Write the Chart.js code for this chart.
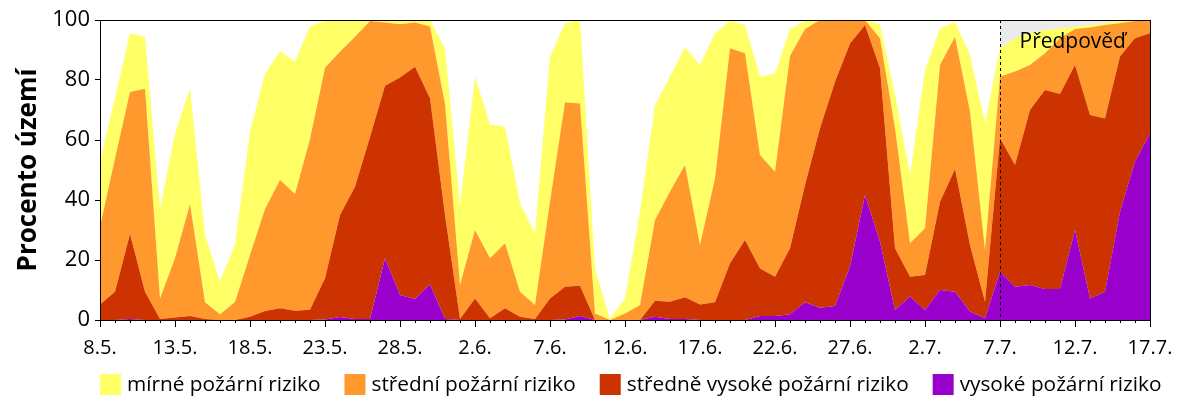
<!DOCTYPE html>
<html>
<head>
<meta charset="utf-8">
<script src="https://cdn.jsdelivr.net/npm/chart.js@4/dist/chart.umd.min.js"></script>
<style>
  html, body { margin: 0; padding: 0; background: #fff; }
  #wrap { width: 1200px; height: 400px; }
</style>
</head>
<body>
<div id="wrap"><canvas id="riziko" width="1200" height="400"></canvas></div>
<script>
const dny = [
    '8.5.', '9.5.', '10.5.', '11.5.', '12.5.', '13.5.', '14.5.', '15.5.', '16.5.', '17.5.',
    '18.5.', '19.5.', '20.5.', '21.5.', '22.5.', '23.5.', '24.5.', '25.5.', '26.5.', '27.5.',
    '28.5.', '29.5.', '30.5.', '31.5.', '1.6.', '2.6.', '3.6.', '4.6.', '5.6.', '6.6.',
    '7.6.', '8.6.', '9.6.', '10.6.', '11.6.', '12.6.', '13.6.', '14.6.', '15.6.', '16.6.',
    '17.6.', '18.6.', '19.6.', '20.6.', '21.6.', '22.6.', '23.6.', '24.6.', '25.6.', '26.6.',
    '27.6.', '28.6.', '29.6.', '30.6.', '1.7.', '2.7.', '3.7.', '4.7.', '5.7.', '6.7.',
    '7.7.', '8.7.', '9.7.', '10.7.', '11.7.', '12.7.', '13.7.', '14.7.', '15.7.', '16.7.',
    '17.7.'
];

// podil uzemi v % pro kazdy stupen (skladane)
const vysoke = [
    0, 0, 0.3, 0, 0, 0, 0, 0, 0, 0,
    0, 0, 0, 0, 0, 0.2, 1, 0.3, 0.3, 20.6,
    8.3, 7, 11.9, 0.3, 0, 0, 0, 0, 0, 0,
    0, 0.2, 1.3, 0, 0, 0, 0, 1.1, 0.3, 0.3,
    0, 0, 0, 0, 1.3, 1.3, 1.9, 5.9, 4.1, 4.7,
    17.8, 41.7, 26.1, 3.3, 7.8, 3.3, 10, 9.4, 2.8, 0.6,
    16.1, 11.1, 11.7, 10.3, 10.3, 30, 7.2, 9.4, 36.1, 52.8,
    62.2
];
const stredneVysoke = [
    5.2, 9.4, 28.4, 9.4, 0.3, 0.8, 1.3, 0.3, 0, 0,
    1.1, 3, 3.9, 3.1, 3.4, 13.7, 34, 44.1, 60.7, 57.5,
    72.5, 77.4, 62, 34.7, 0.3, 7.2, 0.6, 3.9, 1.1, 0.3,
    7.2, 10.9, 10.1, 0, 0, 0, 0, 5.3, 5.8, 7.3,
    5.2, 5.9, 18.9, 26.7, 15.9, 13.1, 22, 39.1, 59.8, 74.7,
    74.4, 56.6, 57.8, 20.6, 6.6, 11.7, 29.4, 40.9, 22.2, 5.5,
    44.5, 40.6, 58.3, 66.4, 65, 55, 61.1, 57.8, 51.7, 41.1,
    33.4
];
const stredni = [
    25.9, 44.4, 47.3, 67.7, 6.9, 19.8, 37.4, 5.6, 1.9, 6,
    20.6, 34, 42.8, 38.9, 56.9, 70.2, 54.4, 50, 38.7, 21.1,
    17.8, 14.8, 23.9, 37, 11.4, 22.8, 20, 21.7, 8.3, 4.7,
    32.2, 61.5, 60.8, 2.2, 0, 2.2, 5, 26.9, 36.7, 44.1,
    19.8, 41.3, 71.7, 62.2, 37.8, 35, 64.1, 52, 36.1, 20.6,
    7.8, 1.7, 10, 40, 11.2, 15.6, 45.6, 44.1, 44.4, 17.2,
    20.5, 31.1, 15, 12.2, 18.6, 12, 29.2, 31.1, 11.1, 5.8,
    4.4
];
const mirne = [
    21.7, 20.2, 19.6, 17.3, 29.8, 41.6, 38.5, 22.4, 10.9, 19,
    41.1, 45, 43, 44.1, 37.7, 15.6, 10.6, 5.6, 0.3, 0.8,
    1.4, 0.8, 2.2, 18.6, 26.6, 51.1, 44.6, 38.8, 29.5, 23.9,
    48.4, 26.3, 27.8, 15, 0.3, 5, 31.1, 38.4, 38.3, 39.2,
    60, 48.4, 9.1, 9.4, 26.1, 32.8, 9, 2.7, 0, 0,
    0, 0, 4.7, 11.1, 22.7, 52.7, 12.2, 5, 18.9, 42.3,
    9.5, 11.1, 10.6, 7.8, 3.3, 0.8, 0.8, 0.6, 0.8, 0.3,
    0
];

const predpovedOd = '7.7.';
const pismo = "'Open Sans', 'DejaVu Sans', sans-serif";

const predpoved = {
    id: 'predpoved',
    beforeDatasetsDraw(chart) {
        const {ctx, chartArea: a, scales: {x}} = chart;
        const px = x.getPixelForValue(dny.indexOf(predpovedOd));
        ctx.save();
        ctx.fillStyle = '#ebebeb';
        ctx.fillRect(px, a.top, a.right - px, a.bottom - a.top);
        ctx.restore();
    },
    afterDatasetsDraw(chart) {
        const {ctx, chartArea: a, scales: {x}} = chart;
        const px = Math.round(x.getPixelForValue(dny.indexOf(predpovedOd))) + 0.5;
        ctx.save();
        // carkovana cara predpovedi
        ctx.strokeStyle = '#000';
        ctx.lineWidth = 1;
        ctx.setLineDash([3, 3]);
        ctx.beginPath();
        ctx.moveTo(px, a.top);
        ctx.lineTo(px, a.bottom);
        ctx.stroke();
        ctx.setLineDash([]);

        ctx.fillStyle = '#000';
        ctx.font = '21px ' + pismo;
        ctx.textBaseline = 'middle';
        ctx.fillText('Předpověď', px + 19, a.top + 22);

        // ramecek grafu
        ctx.strokeRect(Math.round(a.left) + 0.5, Math.round(a.top) + 0.5,
            Math.round(a.right - a.left), Math.round(a.bottom - a.top));

        // znacky na ose x: kazdy den kratka, kazdych 5 dni dlouha
        ctx.beginPath();
        dny.forEach((d, i) => {
            const tx = Math.round(x.getPixelForValue(i)) + 0.5;
            ctx.moveTo(tx, a.bottom);
            ctx.lineTo(tx, a.bottom + (i % 5 === 0 ? 7 : 3));
        });
        ctx.stroke();

        // legenda pod grafem, v obracenem poradi datasetu
        ctx.font = '20.8px ' + pismo;
        ctx.textBaseline = 'middle';
        let lx = a.left;
        chart.data.datasets.slice().reverse().forEach(ds => {
            ctx.fillStyle = ds.backgroundColor;
            ctx.fillRect(lx, 374, 21, 21);
            ctx.fillStyle = '#000';
            ctx.fillText(ds.label, lx + 27, 385);
            lx += 27 + ctx.measureText(ds.label).width + 24;
        });
        ctx.restore();
    }
};

new Chart(document.getElementById('riziko'), {
    type: 'line',
    data: {
        labels: dny,
        datasets: [
            { label: 'vysoké požární riziko', data: vysoke, backgroundColor: '#9900cc', fill: 'origin' },
            { label: 'středně vysoké požární riziko', data: stredneVysoke, backgroundColor: '#cc3300', fill: '-1' },
            { label: 'střední požární riziko', data: stredni, backgroundColor: '#ff992e', fill: '-1' },
            { label: 'mírné požární riziko', data: mirne, backgroundColor: '#ffff66', fill: '-1' }
        ].map(ds => Object.assign(ds, {
            borderWidth: 0,
            borderColor: ds.backgroundColor,
            pointRadius: 0,
            tension: 0
        }))
    },
    options: {
        responsive: false,
        animation: false,
        layout: { padding: { top: 20, right: 50, left: 0, bottom: 0 } },
        plugins: {
            tooltip: { enabled: false },
            legend: { display: false }
        },
        scales: {
            x: {
                grid: { display: false },
                border: { display: true, color: '#000' },
                ticks: {
                    autoSkip: false,
                    maxRotation: 0,
                    padding: 8,
                    color: '#000',
                    font: { family: pismo, size: 20 },
                    callback: (v, i) => (i % 5 === 0 ? dny[i] : '')
                },
                afterFit: s => { s.height = 80; }
            },
            y: {
                stacked: true,
                min: 0,
                max: 100,
                ticks: {
                    stepSize: 20,
                    padding: 5,
                    color: '#000',
                    font: { family: pismo, size: 22 }
                },
                grid: { drawOnChartArea: false, tickLength: 5, color: '#000' },
                border: { display: true, color: '#000' },
                title: {
                    display: true,
                    text: 'Procento území',
                    color: '#000',
                    font: { family: pismo, size: 26, weight: 'bold' },
                    padding: { top: 13, bottom: 0 }
                },
                afterFit: s => { s.width = 100; }
            }
        }
    },
    plugins: [predpoved]
});
</script>
</body>
</html>
